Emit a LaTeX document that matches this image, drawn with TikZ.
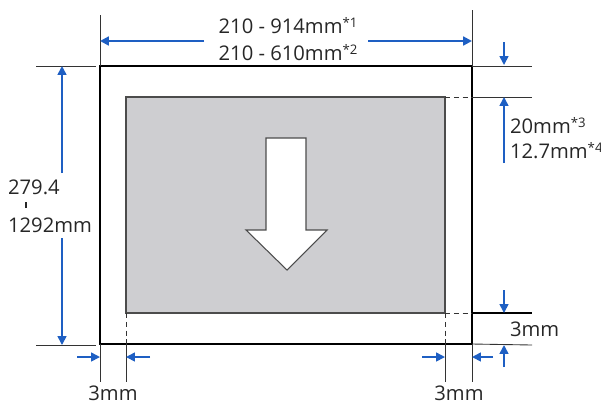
\documentclass[tikz,border=0pt]{standalone}
\usepackage{fontspec}
\setmainfont{Open Sans}
\usetikzlibrary{arrows.meta, positioning}
\definecolor{dimblue}{RGB}{30,95,195}
\definecolor{areagrey}{RGB}{206,206,209}
\newcommand{\fnmark}[1]{\raisebox{0.55ex}{\fontsize{7.5}{8}\selectfont *#1}}

\begin{document}
\begin{tikzpicture}[
        x=0.02cm, y=-0.02cm,
        paper/.style={draw=black, line width=1.5pt},
        area/.style={draw=black!70, fill=areagrey, line width=0.6pt},
        guide/.style={draw=black!80, line width=0.5pt},
        dashguide/.style={guide, dash pattern=on 3pt off 2pt},
        dim/.style={-{Triangle[length=5pt, width=5pt]}, draw=dimblue, line width=0.9pt},
        lbl/.style={font=\fontsize{11.5}{13}\selectfont, inner sep=1pt, text=black!85}
    ]
        \useasboundingbox (0,0) rectangle (601,407);

        % Paper and printable area
        \coordinate (pNW) at (100,66);  \coordinate (pNE) at (472,66);
        \coordinate (pSW) at (100,344); \coordinate (pSE) at (472,344);
        \coordinate (aNW) at (126,97);  \coordinate (aNE) at (445,97);
        \coordinate (aSW) at (126,313); \coordinate (aSE) at (445,313);
        \draw[area] (aNW) rectangle (aSE);
        \draw[area, fill=white] (266,138) -- (306,138) -- (306,230) -- (327,230) -- (287,270) -- (246,230) -- (266,230) -- cycle;
        \draw[paper] (pNW) rectangle (pSE);

        % Guide lines
        \coordinate (gTL) at (100,15);  \coordinate (gTR) at (472,10);
        \coordinate (gR1) at (532,66);  \coordinate (gR2) at (532,97);
        \coordinate (gR3) at (532,313); \coordinate (gR4) at (532,345);
        \coordinate (pR2) at (472,97);  \coordinate (pR3) at (472,313);
        \coordinate (gL1) at (36,66);   \coordinate (gL2) at (36,345);
        \coordinate (gL1e) at (96,66);  \coordinate (gL2e) at (96,345);
        \coordinate (aSWb) at (126,344); \coordinate (aSEb) at (445,344);
        \coordinate (bB1) at (100,382); \coordinate (bB2) at (126,382);
        \coordinate (bB3) at (445,382); \coordinate (bB4) at (472,382);
        \draw[guide] (gTL) -- (pNW);
        \draw[guide] (gTR) -- (pNE);
        \draw[guide] (pNE) -- (gR1);
        \draw[guide] (pR2) -- (gR2);
        \draw[dashguide] (aNE) -- (pR2);
        \draw[paper] (pR3) -- (gR3);
        \draw[dashguide] (aSE) -- (pR3);
        \draw[guide] (pSE) -- (gR4);
        \draw[guide] (gL1) -- (gL1e);
        \draw[guide] (gL2) -- (gL2e);
        \draw[dashguide] (aSW) -- (aSWb);
        \draw[dashguide] (aSE) -- (aSEb);
        \draw[guide] (pSW) -- (bB1);
        \draw[guide] (aSWb) -- (bB2);
        \draw[guide] (aSEb) -- (bB3);
        \draw[guide] (pSE) -- (bB4);

        % Labels
        \node[lbl] (wmax) at (288,26) {210 - 914mm\fnmark{1}};
        \node[lbl] (wmin) at (288,53) {210 - 610mm\fnmark{2}};
        \node[lbl, anchor=west] (top20) at (508,126) {20mm\fnmark{3}};
        \node[lbl, anchor=west] (top12) at (508,151) {12.7mm\fnmark{4}};
        \node[lbl, anchor=west] (bot3) at (508,329) {3mm};
        \node[lbl] (left3) at (113,393) {3mm};
        \node[lbl] (right3) at (459,393) {3mm};
        \node[lbl, anchor=west] (lenmin) at (6,187) {279.4};
        \node[lbl] (lendash) at (26,205) {\rule{1.4pt}{3.5pt}};
        \node[lbl, anchor=west] (lenmax) at (6,225) {1292mm};

        % Arrows
        \coordinate (wL) at (100,41);   \coordinate (wLs) at (204,41);
        \coordinate (wR) at (472,41);   \coordinate (wRs) at (368,41);
        \draw[dim, line width=1.2pt] (wLs) -- (wL);
        \draw[dim, line width=1.2pt] (wRs) -- (wR);
        \draw[dim] (504,42) -- (504,65);
        \draw[dim] (504,163) -- (504,97);
        \draw[dim] (504,290) -- (504,313);
        \draw[dim] (504,367) -- (504,345);
        \draw[dim] (62,173) -- (62,66);
        \draw[dim] (62,238) -- (62,345);
        \draw[dim] (77,357) -- (100,357);
        \draw[dim] (150,357) -- (126,357);
        \draw[dim] (422,357) -- (445,357);
        \draw[dim] (493,357) -- (472,357);
\end{tikzpicture}
\end{document}
